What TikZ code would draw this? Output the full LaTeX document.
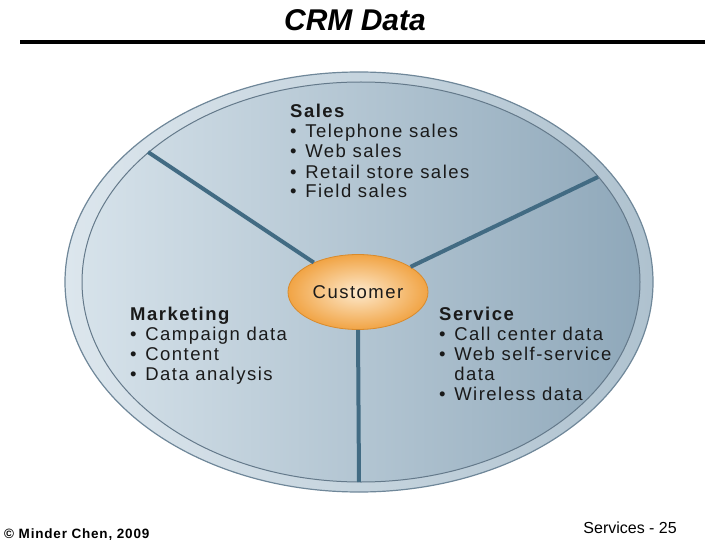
\documentclass[tikz,border=0pt]{standalone}
\usepackage{fontspec}
\setmainfont{Liberation Sans}
\usetikzlibrary{shapes.geometric}
\definecolor{ringL}{HTML}{DCE6ED}
\definecolor{ringR}{HTML}{AFC2CF}
\definecolor{ringEdge}{HTML}{6F8799}
\definecolor{fillL}{HTML}{D6E2EA}
\definecolor{fillR}{HTML}{8FA8BA}
\definecolor{divcol}{HTML}{426B83}
\definecolor{custIn}{HTML}{FDE9CC}
\definecolor{custOut}{HTML}{F1A445}
\definecolor{custEdge}{HTML}{D98A2B}
\definecolor{txt}{HTML}{1A1A1A}
\newcommand{\blt}{•\hspace{2pt} }
\tikzset{
  lst/.style={anchor=base west, align=left, inner sep=0pt, text=txt,
    font=\fontsize{18.5}{20}\selectfont\addfontfeature{LetterSpace=8}},
  divider/.style={draw=divcol, line width=4pt},
  custbox/.style={ellipse, draw=custEdge, line width=0.8pt, inner color=custIn, outer color=custOut,
    minimum width=140pt, minimum height=75pt, text=txt,
    font=\fontsize{18.5}{20}\selectfont\addfontfeature{LetterSpace=8}}
}
\begin{document}
\begin{tikzpicture}[x=1pt,y=-1pt]
\useasboundingbox (0,0) rectangle (720,540);
% title
\node[font=\bfseries\itshape\fontsize{30}{34}\selectfont, anchor=base, inner sep=0pt] (title) at (355,31) {CRM Data};
\draw[line width=4pt] (20,42) -- (705,42);
% ring and inner disc
\draw[draw=ringEdge, line width=1.2pt, left color=ringL, right color=ringR] (359,282) ellipse [x radius=294pt, y radius=210pt];
\draw[draw=ringEdge!90!black, line width=1pt, left color=fillL, right color=fillR] (361,282) ellipse [x radius=279pt, y radius=200pt];
% boundary points
\coordinate (tl) at (148,152);
\coordinate (tr) at (598,177);
\coordinate (bt) at (359,482);
% customer
\node[custbox] (cust) at (358,292) {Customer};
\draw[divider] (cust) -- (tl);
\draw[divider] (cust) -- (tr);
\draw[divider] (cust.south) -- (bt);
% lists (anchored at the baseline of their last line)
\node[lst] (sales) at (290,198) {\textbf{Sales}\\ \blt Telephone sales\\ \blt Web sales\\ \blt Retail store sales\\ \blt Field sales};
\node[lst] (mkt) at (130,380) {\textbf{Marketing}\\ \blt Campaign data\\ \blt Content\\ \blt Data analysis};
\node[lst] (svc) at (439,400) {\textbf{Service}\\ \blt Call center data\\ \blt Web self-service\\ \hphantom{\blt}data\\ \blt Wireless data};
% footer
\node[anchor=base west, inner sep=0pt, font=\bfseries\fontsize{13.5}{15}\selectfont\addfontfeature{LetterSpace=6}] (copy) at (4,538) {© Minder Chen, 2009};
\node[anchor=base east, inner sep=0pt, font=\fontsize{16}{18}\selectfont] (page) at (677,533) {Services - 25};
\end{tikzpicture}
\end{document}
